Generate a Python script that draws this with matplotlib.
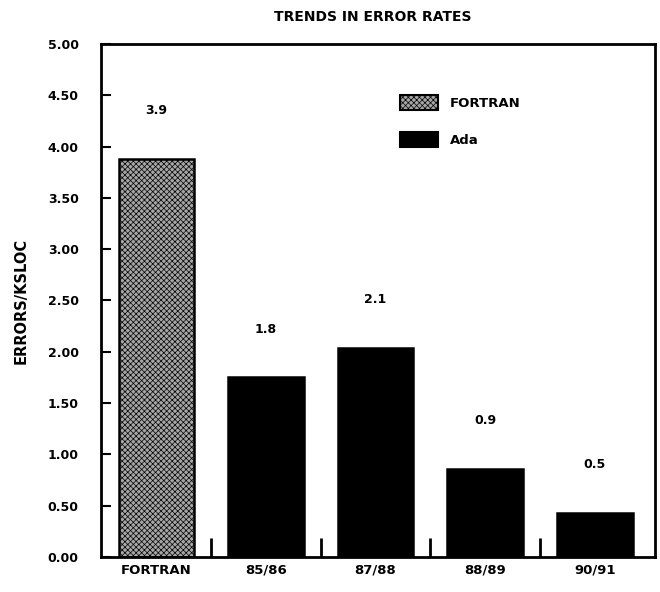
import matplotlib
matplotlib.use("Agg")
import matplotlib.pyplot as plt
from matplotlib.patches import Patch
import numpy as np

categories = ['FORTRAN', '85/86', '87/88', '88/89', '90/91']
values = [3.88, 1.75, 2.04, 0.86, 0.43]
value_labels = ['3.9', '1.8', '2.1', '0.9', '0.5']
languages = ['FORTRAN', 'Ada', 'Ada', 'Ada', 'Ada']
y_ticks = [0.0, 0.5, 1.0, 1.5, 2.0, 2.5, 3.0, 3.5, 4.0, 4.5, 5.0]
title = 'TRENDS IN ERROR RATES'
y_label = 'ERRORS/KSLOC'

plt.rcParams['font.family'] = ['DejaVu Sans']
plt.rcParams['font.weight'] = 'bold'
plt.rcParams['hatch.color'] = 'black'
plt.rcParams['hatch.linewidth'] = 0.5

fig = plt.figure(figsize=(6.6, 5.92), dpi=100)
ax = fig.add_axes([0.153, 0.0591, 0.839, 0.8666])

styles = {
    'FORTRAN': dict(facecolor='#a6a6a6', hatch='xxxxxx', edgecolor='black'),
    'Ada': dict(facecolor='black', edgecolor='black'),
}

x = np.arange(len(categories))
for xi, v, lang in zip(x, values, languages):
    ax.bar(xi, v, width=0.69, linewidth=1.8, **styles[lang])

for xi, v, lab in zip(x, values, value_labels):
    ax.text(xi, v + 0.47, lab, ha='center', va='center', fontsize=9, fontweight='bold')

ax.set_xlim(-0.506, 4.547)
ax.set_ylim(0, 5.0)
ax.set_yticks(y_ticks)
ax.set_yticklabels(['%.2f' % t for t in y_ticks], fontsize=9, fontweight='bold')
ax.tick_params(axis='y', direction='in', length=7, width=1.5, pad=16)

ax.set_xticks(x)
ax.set_xticklabels(categories, fontsize=9.5, fontweight='bold')
ax.tick_params(axis='x', which='major', length=0, pad=5)
ax.set_xticks(x[:-1] + 0.5, minor=True)
ax.tick_params(axis='x', which='minor', direction='in', length=14, width=2)

for s in ax.spines.values():
    s.set_linewidth(2)

ax.set_ylabel(y_label, fontsize=10.5, fontweight='bold', labelpad=14)
fig.text(0.565, 0.972, title, ha='center', va='center', fontsize=10, fontweight='bold')

handles = [Patch(label='FORTRAN', linewidth=1.5, **styles['FORTRAN']),
           Patch(label='Ada', linewidth=1.5, **styles['Ada'])]
ax.legend(handles=handles, loc='upper left', bbox_to_anchor=(0.54, 0.9),
          frameon=False, handlelength=2.9, handleheight=1.3,
          handletextpad=0.9, labelspacing=1.7, borderpad=0, borderaxespad=0,
          prop={'weight': 'bold', 'size': 9.5})

fig.savefig('out.png', dpi=100)
